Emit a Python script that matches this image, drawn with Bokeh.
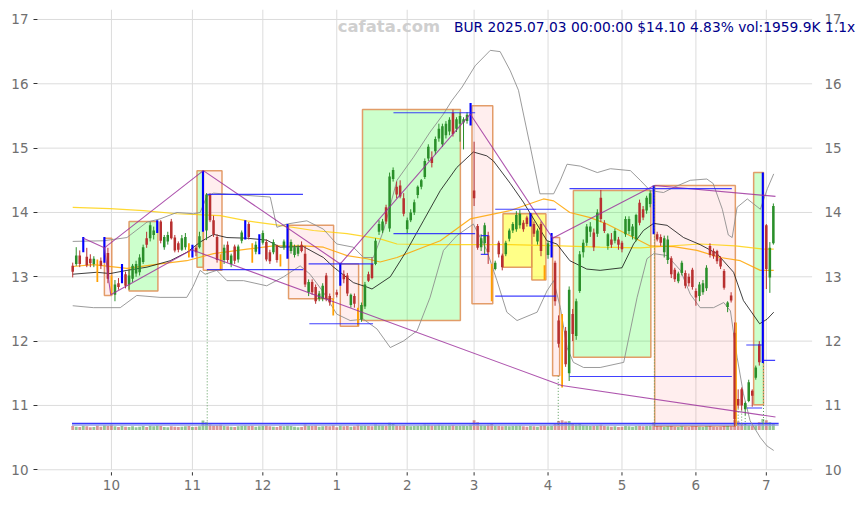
import numpy as np
from bokeh.plotting import figure
from bokeh.models import Range1d, FixedTicker
from bokeh.core.properties import value
from bokeh.embed import file_html
from bokeh.resources import INLINE

# ---- daily OHLC (trading-day index 0 = 2024-09-16 ... 199 = 2025-07-03) ----
OPEN = [13.17, 13.20, 13.33, 13.40, 13.31, 13.28, 13.20, 13.25, 13.25, 13.25,
        13.37, 12.98, 12.72, 12.90, 12.94, 13.04, 12.88, 12.97, 13.05, 13.07,
        13.23, 13.60, 13.60, 13.65, 13.72, 13.86, 13.46, 13.55, 13.86, 13.61,
        13.52, 13.42, 13.46, 13.48, 13.33, 13.45, 13.46, 13.75, 13.72, 14.28,
        13.88, 13.62, 13.30, 13.26, 13.50, 13.20, 13.47, 13.27, 13.56, 13.62,
        13.82, 13.50, 13.39, 13.38, 13.53, 13.54, 13.38, 13.38, 13.48, 13.30,
        13.46, 13.32, 13.40, 13.34, 13.36, 13.50, 13.36, 12.76, 12.92, 12.84,
        12.66, 12.66, 13.02, 12.70, 12.64, 12.76, 12.88, 13.04, 13.02, 12.56,
        12.70, 12.48, 12.34, 12.54, 13.04, 13.20, 13.20, 13.70, 13.72, 14.08,
        13.75, 14.52, 14.40, 14.42, 14.22, 13.74, 13.88, 14.00, 14.27, 14.40,
        14.55, 14.84, 14.86, 14.95, 15.15, 15.06, 15.20, 15.26, 15.55, 15.30,
        15.38, 15.40, 15.42, 15.40, 14.34, 13.79, 13.46, 13.52, 13.64, 13.17,
        13.12, 13.53, 13.33, 13.35, 13.59, 13.72, 13.74, 13.80, 13.84, 13.92,
        13.82, 13.82, 13.55, 13.82, 13.12, 13.34, 13.36, 13.22, 12.32, 12.00,
        12.16, 11.50, 12.42, 12.08, 12.78, 13.38, 13.53, 13.70, 13.69, 13.67,
        14.23, 13.84, 13.48, 13.58, 13.56, 13.58, 13.53, 13.66, 13.71, 13.63,
        13.58, 14.15, 14.05, 14.03, 14.13, 14.30, 13.66, 13.62, 13.38, 13.26,
        13.29, 13.11, 12.93, 13.06, 13.06, 13.00, 13.11, 12.78, 12.70, 12.76,
        12.82, 13.48, 13.40, 13.40, 13.29, 13.09, 12.53, 12.71, 12.13, 11.10,
        11.25, 10.94, 11.07, 11.23, 11.43, 11.95, 11.70, 13.80, 12.99, 13.52]
HIGH = [13.22, 13.46, 13.41, 13.62, 13.45, 13.35, 13.32, 13.27, 13.30, 13.62,
        13.45, 13.02, 12.95, 12.98, 13.20, 13.08, 13.10, 13.20, 13.25, 13.35,
        13.50, 13.70, 13.85, 13.78, 13.88, 13.88, 13.65, 13.70, 13.90, 13.65,
        13.55, 13.65, 13.68, 13.52, 13.50, 13.48, 13.70, 14.65, 14.30, 14.30,
        13.95, 13.66, 13.35, 13.50, 13.55, 13.36, 13.50, 13.50, 13.72, 13.88,
        13.85, 13.52, 13.55, 13.66, 13.72, 13.58, 13.42, 13.58, 13.50, 13.35,
        13.58, 13.82, 13.58, 13.50, 13.50, 13.55, 13.48, 12.96, 12.96, 12.88,
        12.78, 12.90, 13.06, 12.74, 12.66, 12.80, 13.22, 13.10, 13.06, 12.74,
        12.74, 12.52, 12.60, 12.92, 13.08, 13.30, 13.60, 13.88, 13.90, 14.12,
        14.62, 14.70, 14.48, 14.50, 14.30, 13.92, 14.05, 14.20, 14.42, 14.52,
        14.84, 15.06, 14.95, 15.18, 15.38, 15.38, 15.42, 15.48, 15.60, 15.48,
        15.55, 15.48, 15.56, 15.70, 15.10, 13.82, 13.66, 13.84, 13.70, 13.20,
        13.25, 13.56, 13.36, 13.56, 13.75, 13.85, 14.02, 14.04, 13.88, 13.95,
        13.99, 13.86, 13.75, 13.86, 13.18, 13.56, 13.68, 13.25, 12.40, 12.42,
        12.22, 12.85, 12.50, 12.66, 13.40, 13.58, 13.82, 13.85, 13.75, 14.05,
        14.35, 13.88, 13.68, 13.68, 13.75, 13.62, 13.56, 13.94, 13.94, 13.82,
        13.98, 14.20, 14.10, 14.26, 14.34, 14.42, 13.70, 13.66, 13.64, 13.64,
        13.32, 13.14, 13.08, 13.25, 13.10, 13.05, 13.14, 12.82, 12.92, 12.95,
        13.18, 13.52, 13.44, 13.42, 13.32, 13.12, 12.62, 12.76, 12.29, 11.25,
        11.28, 11.06, 11.40, 11.25, 11.62, 12.00, 14.62, 13.82, 13.54, 14.14]
LOW = [12.99, 13.17, 13.15, 13.38, 13.15, 13.15, 13.15, 12.92, 13.12, 13.22,
       12.90, 12.72, 12.62, 12.80, 12.90, 12.82, 12.80, 12.92, 13.00, 13.02,
       13.20, 13.45, 13.55, 13.58, 13.68, 13.52, 13.42, 13.50, 13.58, 13.38,
       13.38, 13.40, 13.42, 13.30, 13.30, 13.32, 13.44, 13.70, 13.57, 13.85,
       13.62, 13.22, 13.10, 13.20, 13.22, 13.15, 13.20, 13.22, 13.52, 13.58,
       13.58, 13.22, 13.35, 13.35, 13.50, 13.24, 13.20, 13.35, 13.22, 13.16,
       13.42, 13.28, 13.36, 13.30, 13.32, 13.38, 12.84, 12.70, 12.72, 12.58,
       12.62, 12.62, 12.62, 12.55, 12.40, 12.68, 12.86, 12.90, 12.70, 12.52,
       12.52, 12.24, 12.30, 12.50, 12.92, 12.96, 13.18, 13.65, 13.68, 13.82,
       13.70, 14.48, 14.22, 14.22, 13.94, 13.68, 13.85, 13.96, 14.22, 14.36,
       14.52, 14.80, 14.70, 14.90, 15.10, 15.02, 15.15, 15.20, 15.18, 15.25,
       15.10, 14.98, 15.38, 15.35, 14.10, 13.42, 13.40, 13.35, 13.20, 12.62,
       13.10, 13.30, 13.10, 13.32, 13.55, 13.68, 13.70, 13.75, 13.70, 13.78,
       13.78, 13.62, 13.50, 13.32, 12.95, 13.28, 13.30, 12.55, 11.90, 11.28,
       11.60, 11.38, 12.00, 12.02, 12.75, 13.30, 13.48, 13.62, 13.40, 13.62,
       13.85, 13.68, 13.42, 13.45, 13.52, 13.42, 13.38, 13.62, 13.66, 13.58,
       13.55, 13.80, 13.88, 13.98, 14.08, 13.66, 13.55, 13.48, 13.30, 13.20,
       12.98, 12.92, 12.90, 13.02, 12.82, 12.85, 12.80, 12.55, 12.62, 12.72,
       12.78, 13.30, 13.28, 13.20, 13.12, 12.80, 12.45, 12.60, 10.68, 10.95,
       10.92, 10.85, 11.05, 10.98, 11.40, 11.62, 11.66, 12.81, 12.75, 13.50]
CLOSE = [13.08, 13.33, 13.20, 13.60, 13.18, 13.21, 13.28, 12.96, 13.17, 13.45,
         12.97, 12.75, 12.88, 12.84, 13.17, 12.86, 13.02, 13.17, 13.20, 13.30,
         13.46, 13.50, 13.80, 13.72, 13.86, 13.56, 13.62, 13.65, 13.60, 13.41,
         13.42, 13.60, 13.62, 13.35, 13.46, 13.38, 13.63, 14.55, 14.28, 13.88,
         13.66, 13.26, 13.15, 13.45, 13.26, 13.33, 13.25, 13.47, 13.69, 13.86,
         13.62, 13.25, 13.50, 13.63, 13.68, 13.27, 13.24, 13.54, 13.26, 13.20,
         13.55, 13.78, 13.54, 13.46, 13.46, 13.40, 12.88, 12.92, 12.76, 12.62,
         12.74, 12.86, 12.66, 12.60, 12.44, 12.72, 13.18, 12.96, 12.74, 12.72,
         12.58, 12.28, 12.56, 12.88, 12.94, 12.98, 13.56, 13.82, 13.86, 13.86,
         14.56, 14.66, 14.28, 14.25, 13.98, 13.88, 14.00, 14.16, 14.40, 14.50,
         14.80, 15.02, 14.77, 15.14, 15.30, 15.34, 15.38, 15.44, 15.22, 15.45,
         15.50, 15.45, 15.52, 15.62, 14.22, 13.45, 13.60, 13.80, 13.38, 12.80,
         13.22, 13.35, 13.15, 13.53, 13.72, 13.82, 13.96, 13.98, 13.74, 13.82,
         13.96, 13.67, 13.72, 13.40, 13.00, 13.52, 13.62, 12.62, 11.96, 11.40,
         11.64, 12.80, 12.11, 12.62, 13.35, 13.53, 13.78, 13.78, 13.46, 14.00,
         13.90, 13.71, 13.66, 13.50, 13.71, 13.50, 13.43, 13.90, 13.90, 13.78,
         13.96, 13.84, 13.92, 14.23, 14.30, 13.70, 13.58, 13.53, 13.60, 13.58,
         13.04, 12.96, 13.05, 13.22, 12.86, 12.90, 12.84, 12.68, 12.88, 12.90,
         13.14, 13.34, 13.32, 13.24, 13.16, 12.83, 12.60, 12.63, 10.79, 11.00,
         11.00, 11.04, 11.36, 11.15, 11.59, 11.67, 14.25, 13.12, 13.45, 14.10]
VOLUME_K = [1300, 1100, 1000, 1400, 1200, 900, 1000, 1500, 1100, 1600,
            1400, 1700, 1200, 1000, 1300, 1100, 1000, 1200, 900, 1100,
            1300, 1000, 1400, 1200, 1500, 1300, 1000, 900, 1200, 1100,
            1000, 1100, 1200, 1300, 1000, 1100, 1200, 3200, 2600, 1800,
            1500, 1600, 1700, 1300, 1200, 1100, 1000, 1200, 1300, 1500,
            1300, 1400, 1100, 1200, 1300, 1500, 1200, 1100, 1000, 1300,
            1200, 1400, 1300, 1100, 900, 1000, 1800, 1400, 1300, 1500,
            1100, 1200, 1300, 1200, 1600, 900, 1400, 1200, 1300, 1100,
            1200, 1700, 1400, 1500, 1300, 1200, 1800, 1600, 1500, 1400,
            2400, 2000, 1500, 1400, 1600, 1300, 1200, 1300, 1400, 1500,
            1800, 1700, 1500, 1600, 1700, 1500, 1400, 1500, 1600, 1300,
            1400, 1500, 1300, 1700, 3300, 2600, 1600, 1500, 1700, 2000,
            1400, 1300, 1200, 1300, 1200, 1300, 1400, 1500, 1200, 1100,
            1300, 1200, 1100, 1400, 1500, 1200, 1300, 2200, 3000, 3300,
            2800, 3000, 2000, 1800, 2100, 1600, 1500, 1300, 1400, 1500,
            1700, 1300, 1200, 1100, 1200, 1000, 1100, 1300, 1200, 1100,
            1300, 1400, 1200, 1300, 1400, 2500, 1300, 1200, 1100, 1200,
            1300, 1100, 1000, 1200, 1100, 1000, 1200, 1300, 1100, 1000,
            1200, 1400, 1100, 1000, 1100, 1300, 1400, 1200, 3400, 2800,
            2200, 1900, 1700, 1500, 1600, 2600, 3700, 3300, 2600, 1960]

BLUE_IDX = [3, 9, 14, 24, 34, 37, 49, 53, 61, 76, 113, 130, 136, 165, 196]
ORANGE_IDX = [7, 11, 33, 42, 51, 59, 74, 81, 119, 134, 139]
ORANGE_WICK_IDX = [188]

MONTH_TICKS = [11, 34, 54, 75, 95, 114, 135, 156, 177, 197]
MONTH_LABELS = ["10", "11", "12", "1", "2", "3", "4", "5", "6", "7"]
PRICE_TICKS = [10, 11, 12, 13, 14, 15, 16, 17]

# ---- indicator curves (trading-day index, price) ----
MA_X = [0, 6.8, 10.6, 15.4, 21.1, 27.7, 32.4, 36.2, 40.0, 43.8, 49.5, 55.1, 58.9,
        65.5, 71.2, 74.1, 79.7, 83.6, 85.0, 90.2, 94.9, 99.6, 104.4, 109.1, 113.8,
        117.6, 119.5, 124.3, 128.0, 131.8, 134.7, 137.5, 141.2, 146.0, 149.8,
        156.0, 159.3, 162.1, 165.0, 168.8, 173.5, 178.2, 183.0, 187.7, 190.5,
        195.1, 197.2, 199.1]
MA_Y = [13.04, 13.07, 13.05, 13.10, 13.15, 13.25, 13.38, 13.54, 13.66, 13.61, 13.60,
        13.57, 13.46, 13.47, 13.30, 13.15, 12.91, 12.84, 12.81, 13.00, 13.41, 13.87,
        14.34, 14.70, 14.94, 14.88, 14.80, 14.45, 14.16, 13.82, 13.56, 13.51, 13.25,
        13.12, 13.10, 13.14, 13.51, 13.72, 13.83, 13.80, 13.61, 13.50, 13.36, 13.07,
        12.63, 12.27, 12.34, 12.45]
BB_UP_X = [0, 8.7, 15.4, 21.1, 24.8, 29.6, 34.3, 36.2, 38.1, 40.0, 56.1, 58.0, 60.8,
           66.5, 71.2, 75.0, 79.7, 82.6, 85.4, 88.3, 92.1, 96.8, 101.5, 105.3, 107.7,
           110.6, 114.3, 118.6, 121.4, 124.3, 126.6, 129.9, 132.7, 136.6, 138.5,
           140.4, 144.2, 149.0, 152.7, 158.4, 161.2, 164.0, 167.8, 170.7, 175.4,
           180.1, 181.9, 184.5, 186.2, 187.3, 188.7, 191.6, 195.3, 197.3, 199.1]
BB_UP_Y = [13.55, 13.56, 13.61, 13.85, 13.90, 14.00, 13.98, 14.00, 14.25, 14.30,
           14.24, 13.77, 13.82, 13.87, 13.74, 13.51, 13.46, 13.30, 13.30, 13.72,
           14.50, 14.86, 15.25, 15.53, 15.74, 15.95, 16.28, 16.52, 16.50, 16.20,
           15.90, 15.04, 14.29, 14.29, 14.50, 14.75, 14.72, 14.62, 14.68, 14.65,
           14.50, 14.34, 14.31, 14.39, 14.50, 14.52, 14.45, 14.05, 13.65, 13.61,
           14.08, 14.21, 14.05, 14.37, 14.60]
BB_LO_X = [0, 5.9, 13.5, 18.2, 24.8, 32.4, 34.2, 36.2, 37.6, 40.9, 43.8, 48.5, 55.1,
           59.9, 64.6, 67.4, 71.2, 75.0, 78.8, 82.6, 86.4, 90.2, 93.9, 97.8, 101.5,
           105.3, 109.1, 113.8, 117.6, 120.5, 123.3, 126.2, 131.9, 134.7, 136.6,
           138.5, 140.4, 142.2, 145.1, 149.8, 156.5, 160.3, 163.1, 165.0, 168.8,
           172.6, 175.4, 178.2, 182.0, 184.9, 186.8, 188.7, 190.5, 192.4, 195.3,
           197.2, 199.1]
BB_LO_Y = [12.55, 12.52, 12.52, 12.71, 12.68, 12.68, 12.85, 13.10, 13.04, 13.10,
           12.94, 12.94, 12.86, 13.00, 13.17, 13.04, 12.76, 12.42, 12.32, 12.34,
           12.19, 11.90, 12.00, 12.16, 12.68, 13.41, 13.64, 13.82, 13.41, 12.94,
           12.45, 12.32, 12.45, 12.78, 12.94, 12.52, 11.90, 11.67, 11.59, 11.59,
           11.67, 12.68, 13.28, 13.36, 13.33, 13.10, 12.73, 12.52, 12.52, 12.60,
           12.47, 11.75, 11.18, 10.76, 10.50, 10.37, 10.30]
MA200_X = [0, 10.6, 20.1, 29.6, 41.9, 49.5, 58.9, 68.4, 77.9, 87.3, 92.1, 101.5,
           111.0, 124.3, 138.5, 149.8, 161.2, 178.2, 188.2, 196.2, 199.1]
MA200_Y = [14.08, 14.06, 14.03, 13.98, 13.95, 13.87, 13.80, 13.72, 13.67, 13.59,
           13.51, 13.50, 13.50, 13.50, 13.48, 13.46, 13.45, 13.51, 13.48, 13.43, 13.43]
MA60_X = [0, 5.9, 15.4, 24.8, 32.4, 40.0, 49.5, 57.0, 65.5, 71.2, 77.9, 83.6, 87.3,
          92.1, 99.6, 104.4, 112.9, 124.3, 133.7, 136.6, 141.2, 147.0, 151.7,
          159.3, 164.0, 170.7, 177.3, 183.9, 189.6, 195.3, 199.1]
MA60_Y = [13.16, 13.19, 13.13, 13.20, 13.25, 13.36, 13.43, 13.48, 13.48, 13.46,
          13.33, 13.28, 13.23, 13.30, 13.46, 13.56, 13.90, 14.03, 14.21, 14.18,
          14.00, 13.92, 13.82, 13.61, 13.48, 13.47, 13.41, 13.30, 13.25, 13.10, 13.10]

# ---- trend boxes ----
BOX_LEFT = [9.0, 16.0, 35.3, 37.1, 61.3, 76.0, 82.3, 113.4, 122.2, 130.4, 136.3, 142.2, 165.3, 193.4]
BOX_RIGHT = [11.1, 24.2, 37.1, 42.4, 74.1, 81.2, 110.1, 119.3, 130.4, 134.4, 138.3, 164.2, 188.2, 196.2]
BOX_TOP = [13.60, 13.86, 14.65, 14.65, 13.80, 13.20, 15.60, 15.66, 13.98, 13.98, 13.61, 14.34, 14.42, 14.62]
BOX_BOTTOM = [12.71, 12.78, 13.15, 13.10, 12.66, 12.23, 12.32, 12.58, 13.15, 12.95, 11.46, 11.75, 10.68, 11.01]
BOX_KIND = ["down", "up", "up", "down", "down", "down", "up", "down", "flat", "flat", "down", "up", "down", "up"]

# ---- support / resistance levels ----
SR_X0 = [38.2, 38.1, 67.0, 67.2, 91.1, 91.1, 115.9, 115.9, 120.0, 120.0, 141.1, 141.1, 191.3, 191.5, 196.2]
SR_X1 = [65.4, 65.5, 85.4, 85.3, 114.3, 114.3, 118.1, 118.0, 137.3, 137.3, 187.2, 187.2, 195.8, 195.8, 199.5]
SR_Y = [14.28, 13.11, 13.20, 12.27, 15.55, 13.67, 13.64, 13.35, 14.05, 12.70, 14.37, 11.45, 11.94, 10.96, 11.70]

# ---- swing lines ----
SWING_A_X = [3.05, 9.0, 37.1, 76.0, 112.9, 136.3, 165.2, 199.6]
SWING_A_Y = [13.60, 13.45, 14.65, 13.20, 15.53, 13.60, 14.42, 14.25]
SWING_B_X = [9.0, 10.8, 33.8, 138.9, 199.6]
SWING_B_Y = [13.45, 12.72, 13.42, 11.31, 10.82]

# ---- signal markers ----
SIGNAL_X = [38.2, 137.9, 165.2, 188.0, 189.0, 190.0, 191.0, 196.2]
SIGNAL_TOP = [13.10, 11.46, 14.42, 10.68, 10.95, 10.92, 10.85, 11.66]

TITLE = "BUR 2025.07.03 00:00:00 $14.10 4.83% vol:1959.9K 1.1x"
WATERMARK = "cafata.com"

VOL_BASE = 10.62
VOL_SCALE = 0.000046

# ---------------------------------------------------------------------------
o = np.array(OPEN); h = np.array(HIGH); l = np.array(LOW); c = np.array(CLOSE)
vol = np.array(VOLUME_K, dtype=float)
idx = np.arange(len(c))
up = c >= o
GREEN = "#2a8f2a"
RED = "#b83030"
FONT = "DejaVu Sans"
LABEL_GREY = "#707070"
GRID = "#dcdcdc"

# price panel spans x -10..210 and y 10..17.155; the canvas area around it
# carries the right-hand price labels, the header line and the month ticks
X_LO, X_HI, X_CANVAS = -10, 210, 225.45
Y_LO, Y_HI, Y_CANVAS = 10.0, 17.155, 9.88

p = figure(width=866, height=505, output_backend="svg", toolbar_location=None,
           x_range=Range1d(X_LO, X_CANVAS), y_range=Range1d(Y_CANVAS, Y_HI),
           min_border_left=37, min_border_right=0, min_border_top=9, min_border_bottom=28,
           background_fill_color="white", border_fill_color="white")
p.outline_line_color = None

p.xaxis.ticker = FixedTicker(ticks=MONTH_TICKS)
p.xaxis.major_label_overrides = {t: s for t, s in zip(MONTH_TICKS, MONTH_LABELS)}
p.yaxis.ticker = FixedTicker(ticks=PRICE_TICKS)
for ax in (p.xaxis[0], p.yaxis[0]):
    ax.axis_line_color = None
    ax.minor_tick_line_color = None
    ax.major_tick_line_color = "#333333"
    ax.major_tick_in = 0
    ax.major_tick_out = 4
    ax.major_label_text_font = FONT
    ax.major_label_text_font_size = "13.5px"
    ax.major_label_text_color = LABEL_GREY
p.xaxis.major_tick_line_color = None
p.xaxis.major_tick_out = 0
p.xaxis.major_label_standoff = 2

p.xgrid.grid_line_color = None
p.ygrid.grid_line_color = None

# grid, limited to the price panel
n_p, n_m = len(PRICE_TICKS), len(MONTH_TICKS)
p.segment(x0=[X_LO] * n_p, y0=PRICE_TICKS, x1=[X_HI] * n_p, y1=PRICE_TICKS,
          line_color=GRID, line_width=1)
p.segment(x0=MONTH_TICKS, y0=[Y_LO] * n_m, x1=MONTH_TICKS, y1=[Y_HI] * n_m,
          line_color=GRID, line_width=1)
# month tick marks under the panel
p.segment(x0=MONTH_TICKS, y0=[9.962] * n_m, x1=MONTH_TICKS, y1=[9.911] * n_m,
          line_color="#333333", line_width=1)
# price labels on the right-hand side
p.text(x=[X_HI + 3.5] * n_p, y=PRICE_TICKS, text=[str(t) for t in PRICE_TICKS],
       text_font=value(FONT), text_font_size="13.5px", text_color=LABEL_GREY,
       text_align="left", text_baseline="middle")

# trend boxes
fills = {"up": ("#00ff00", 0.2), "down": ("#ff6060", 0.11), "flat": ("#ffff00", 0.47)}
for x0, x1, t, b, k in zip(BOX_LEFT, BOX_RIGHT, BOX_TOP, BOX_BOTTOM, BOX_KIND):
    col, a = fills[k]
    p.quad(left=x0, right=x1, top=t, bottom=b, fill_color=col, fill_alpha=a,
           line_color="#e0925a", line_alpha=0.9, line_width=1.5)

# volume strip
vcol = [GREEN if u else RED for u in up]
p.vbar(x=idx, width=0.8, bottom=VOL_BASE, top=VOL_BASE + vol * VOL_SCALE,
       fill_color=vcol, fill_alpha=0.5, line_color=None)
vmean = vol.mean() * VOL_SCALE
p.line([-0.2, 200.5], [VOL_BASE + vmean * 1.12] * 2, line_color="#8fa0e0", line_width=1.2)
p.line([-0.2, 200.5], [VOL_BASE + vmean * 1.5] * 2, line_color="#3838ff", line_width=1.5)

# indicators
p.line(MA200_X, MA200_Y, line_color="#ffd000", line_alpha=0.8, line_width=1.2)
p.line(MA60_X, MA60_Y, line_color="#ffa500", line_alpha=0.85, line_width=1.2)
p.line(BB_UP_X, BB_UP_Y, line_color="#8a8a8a", line_alpha=0.85, line_width=1)
p.line(BB_LO_X, BB_LO_Y, line_color="#8a8a8a", line_alpha=0.85, line_width=1)
p.line(MA_X, MA_Y, line_color="#111111", line_alpha=0.9, line_width=0.9)

# candles
special = set(BLUE_IDX) | set(ORANGE_IDX)
norm = np.array([i not in special for i in idx])
ni = idx[norm]
ncol = [GREEN if up[i] else RED for i in ni]
p.segment(x0=ni, y0=l[norm], x1=ni, y1=h[norm], line_color=ncol, line_width=1)
p.vbar(x=ni, width=0.72, top=np.maximum(o, c)[norm], bottom=np.minimum(o, c)[norm],
       fill_color=ncol, line_color=None)

bi = np.array(BLUE_IDX)
p.vbar(x=bi, width=0.6, top=h[bi], bottom=l[bi], fill_color="#0000ff", line_color=None)
oi = np.array(ORANGE_IDX)
p.vbar(x=oi, width=0.5, top=h[oi], bottom=l[oi], fill_color="#ffa000", line_color=None)
wi = np.array(ORANGE_WICK_IDX)
p.vbar(x=wi + 0.45, width=0.35, top=h[wi], bottom=l[wi], fill_color="#ffa000", line_color=None)

# swing lines and levels
p.line(SWING_A_X, SWING_A_Y, line_color="#9a2a9a", line_alpha=0.8, line_width=1.1)
p.line(SWING_B_X, SWING_B_Y, line_color="#9a2a9a", line_alpha=0.8, line_width=1.1)
p.segment(x0=SR_X0, y0=SR_Y, x1=SR_X1, y1=SR_Y, line_color="#2020ff", line_alpha=0.85, line_width=1.2)
p.segment(x0=SIGNAL_X, y0=SIGNAL_TOP, x1=SIGNAL_X, y1=[VOL_BASE + 0.06] * len(SIGNAL_X),
          line_color="#5a9a5a", line_dash="1 2", line_width=1)

# header texts
p.text(x=[75.3], y=[16.89], text=[WATERMARK], text_font=value(FONT), text_font_style="bold",
       text_font_size="16.4px", text_color="#cfcfcf", text_baseline="middle", text_align="left")
p.text(x=[108.3], y=[16.89], text=[TITLE], text_font=value(FONT), text_font_size="13.8px",
       text_color="#00008b", text_baseline="middle", text_align="left")

open("out.html", "w").write(file_html(p, INLINE))
